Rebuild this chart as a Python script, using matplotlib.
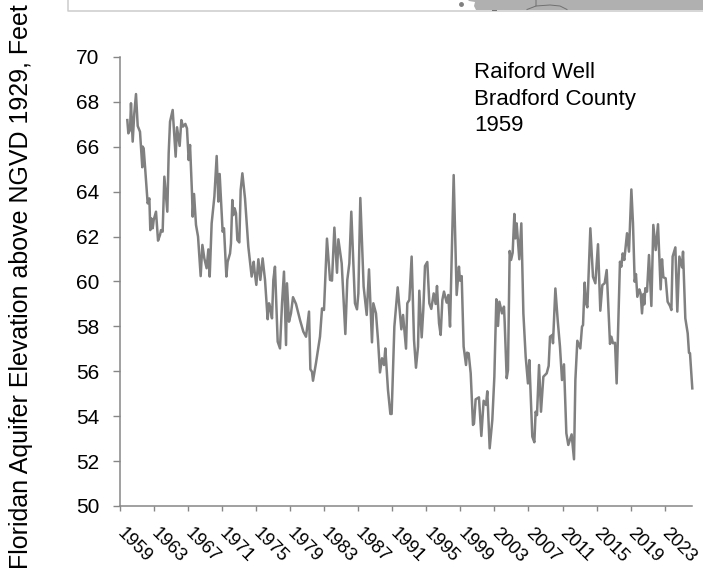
import matplotlib
matplotlib.use("Agg")
import matplotlib.pyplot as plt
from matplotlib.patches import Polygon

plt.rcParams["font.family"] = ["Liberation Sans", "DejaVu Sans"]

# well record
years = [
    1959.86, 1959.98, 1960.18, 1960.29, 1960.49, 1960.68, 1960.88, 1961.08, 1961.35, 1961.62, 1961.66, 1961.78,
    1961.94, 1962.25, 1962.45, 1962.56, 1962.68, 1962.84, 1962.96, 1963.23, 1963.47, 1963.70, 1963.82, 1964.01,
    1964.21, 1964.56, 1964.72, 1964.88, 1965.19, 1965.54, 1965.70, 1966.01, 1966.21, 1966.40, 1966.68, 1966.87,
    1967.07, 1967.23, 1967.46, 1967.54, 1967.70, 1967.93, 1968.17, 1968.48, 1968.68, 1968.91, 1969.18, 1969.38,
    1969.54, 1969.77, 1970.09, 1970.36, 1970.56, 1970.71, 1971.06, 1971.22, 1971.50, 1971.65, 1971.93, 1972.04,
    1972.20, 1972.32, 1972.47, 1972.63, 1972.79, 1973.02, 1973.18, 1973.38, 1973.69, 1974.08, 1974.47, 1974.71,
    1974.82, 1975.02, 1975.26, 1975.49, 1975.76, 1976.04, 1976.35, 1976.51, 1976.67, 1976.86, 1977.02, 1977.21,
    1977.53, 1977.80, 1978.04, 1978.27, 1978.51, 1978.62, 1978.86, 1979.09,
    1979.33, 1979.68, 1980.15, 1980.54, 1980.86, 1981.21, 1981.37, 1981.56, 1981.68, 1982.03, 1982.50, 1982.74,
    1982.97, 1983.32, 1983.68, 1983.91, 1984.19, 1984.50, 1984.66, 1985.05, 1985.48, 1985.71, 1985.95, 1986.18,
    1986.61, 1986.85, 1987.01, 1987.24, 1987.63, 1987.99, 1988.26, 1988.61, 1988.77, 1989.08, 1989.32, 1989.55,
    1989.79, 1990.02, 1990.18, 1990.49, 1990.77, 1990.92, 1991.24, 1991.63, 1992.06, 1992.26, 1992.61, 1992.76,
    1993.00, 1993.27, 1993.55, 1993.78, 1994.02, 1994.17, 1994.45, 1994.64, 1994.84, 1995.11, 1995.35, 1995.58,
    1995.86, 1996.09, 1996.25, 1996.49, 1996.68, 1996.88, 1997.07, 1997.39, 1997.58, 1997.78, 1997.97, 1998.21,
    1998.56, 1998.83, 1998.95, 1999.15, 1999.38, 1999.66, 1999.78, 1999.97, 2000.21, 2000.48, 2000.60, 2000.79,
    2001.18, 2001.46, 2001.73, 2002.01, 2002.16, 2002.44, 2002.75, 2002.99, 2003.22, 2003.42,
    2003.58, 2003.89, 2004.12, 2004.20, 2004.44, 2004.59, 2004.79, 2004.95, 2005.14, 2005.34, 2005.46, 2005.61,
    2005.92, 2006.16, 2006.40, 2006.67, 2006.94, 2007.10, 2007.45, 2007.69, 2007.84, 2008.00, 2008.24, 2008.47,
    2008.75, 2009.14, 2009.37, 2009.53, 2009.80, 2009.88, 2010.16, 2010.43, 2010.70, 2010.94, 2011.17, 2011.45,
    2011.68, 2012.07, 2012.35, 2012.51, 2012.74, 2013.09, 2013.29, 2013.41, 2013.60, 2013.76, 2013.92, 2014.27,
    2014.58, 2014.86, 2015.17, 2015.44, 2015.68, 2015.95, 2016.19, 2016.58, 2016.74, 2016.93, 2017.17, 2017.36,
    2017.75, 2017.91, 2018.07, 2018.26, 2018.58, 2018.81, 2019.09, 2019.28, 2019.48, 2019.63, 2019.79, 2020.03,
    2020.18, 2020.34, 2020.50, 2020.61, 2020.73, 2020.93, 2021.16, 2021.44, 2021.67, 2021.95, 2022.22, 2022.53,
    2022.69, 2022.85, 2023.12, 2023.35, 2023.63, 2023.79, 2023.94, 2024.26, 2024.49, 2024.73, 2025.04, 2025.16,
    2025.43, 2025.71, 2025.86, 2025.98, 2026.25,
]
elevation = [
    67.19, 66.60, 66.75, 67.94, 66.23, 67.49, 68.35, 66.93, 66.67, 65.09, 66.01, 65.93,
    65.12, 63.48, 63.70, 62.29, 62.81, 62.37, 62.74, 63.11, 61.82, 62.07, 62.29, 62.22,
    64.67, 63.11, 65.71, 67.12, 67.64, 65.56, 66.87, 66.04, 67.19, 66.90, 67.02, 66.82,
    65.41, 66.08, 63.93, 62.89, 63.90, 62.52, 62.00, 60.24, 61.63, 61.03, 60.59, 61.43,
    60.22, 62.59, 63.78, 65.59, 63.56, 64.79, 62.22, 62.37, 60.22, 60.88, 61.25, 61.70,
    63.63, 62.96, 63.26, 63.04, 61.85, 61.74, 64.08, 64.82, 63.70, 61.55, 60.22, 60.88,
    60.44, 59.85, 60.99, 60.07, 61.03, 60.07, 58.32, 59.03, 58.80, 58.36, 60.07, 60.66,
    57.32, 57.02, 59.03, 60.44, 57.17, 59.92, 58.21, 58.58,
    59.30, 59.00, 58.29, 57.77, 57.54, 58.66, 56.09, 55.98, 55.58, 56.37, 57.54, 58.80,
    58.73, 61.91, 60.07, 60.04, 62.40, 60.39, 61.88, 60.81, 57.66, 60.07, 60.81, 63.11,
    59.03, 58.76, 59.47, 63.72, 59.77, 58.51, 60.54, 57.29, 59.03, 58.58, 57.39, 55.95,
    56.58, 56.28, 57.02, 55.17, 54.10, 54.10, 57.99, 59.74, 57.87, 58.51, 57.01, 59.03,
    59.18, 61.11, 57.39, 56.16, 57.10, 59.59, 57.51, 58.73, 60.69, 60.87, 59.03, 58.78,
    59.47, 59.00, 59.80, 58.14, 57.62, 59.18, 59.55, 59.06, 59.40, 57.99, 60.96, 64.74,
    59.40, 60.66, 60.04, 60.24, 57.10, 56.28, 56.83, 56.80, 55.91, 53.61, 53.68, 54.75,
    54.84, 53.12, 54.69, 54.50, 55.11, 52.57, 53.83, 55.76, 59.21, 58.02,
    59.10, 58.58, 58.88, 58.21, 55.69, 56.06, 61.36, 60.96, 61.28, 63.01, 61.92, 62.59,
    60.99, 62.59, 58.58, 56.65, 55.46, 56.50, 53.09, 52.84, 54.20, 54.05, 56.28, 54.20,
    55.76, 55.91, 56.24, 57.54, 57.62, 57.25, 59.69, 58.29, 57.10, 55.61, 56.31, 53.24,
    52.72, 53.19, 52.08, 55.61, 57.36, 57.02, 57.99, 58.06, 59.95, 59.03, 58.85, 62.37,
    60.21, 59.92, 61.66, 58.70, 59.84, 59.92, 60.51, 57.22, 57.54, 57.25, 57.27, 55.46,
    60.88, 60.66, 61.25, 60.96, 62.15, 61.33, 64.10, 62.59, 59.99, 60.33, 59.32, 59.65,
    59.47, 58.58, 59.44, 58.98, 59.70, 59.55, 61.18, 58.91, 62.52, 61.40, 62.55, 59.65,
    60.99, 60.19, 60.14, 59.10, 58.91, 58.73, 61.11, 61.52, 58.66, 61.11, 60.63, 61.33,
    58.36, 57.69, 56.83, 56.80, 55.24,
]
year_ticks = list(range(1959, 2024, 4))
level_ticks = list(range(50, 71, 2))
note_lines = ["Raiford Well", "Bradford County", "1959"]

W, H = 703, 571
fig = plt.figure(figsize=(W / 100, H / 100), dpi=100)
ax = fig.add_axes([120 / W, 1 - 506 / H, 572 / W, 449 / H])

ax.plot(years, elevation, color="#808080", lw=1.8, solid_joinstyle="round", clip_on=False)

ax.set_xlim(1959, 1959 + 572 / 8.51)
ax.set_ylim(50, 70)
ax.set_yticks(level_ticks)
ax.set_xticks(year_ticks)
ax.set_xticklabels(year_ticks, rotation=-45, ha="left", va="center", rotation_mode="anchor")
ax.tick_params(axis="x", length=3.6, width=1, color="#868686", labelsize=13.3, pad=14)
ax.tick_params(axis="y", length=5, width=1, color="#868686", labelsize=15, pad=9.7)
for s in ["top", "right"]:
    ax.spines[s].set_visible(False)
for s in ["left", "bottom"]:
    ax.spines[s].set_color("#868686")
    ax.spines[s].set_linewidth(1.1)

for line, base in zip(note_lines, [78, 104.5, 131]):
    fig.text(474 / W, 1 - base / H, line, fontsize=16, va="baseline", ha="left")

fig.text(21 / W, 1 - 287 / H, "Floridan Aquifer Elevation above NGVD 1929, Feet",
         rotation=90, fontsize=18, va="center", ha="center")

# bottom edge of the map sitting above the chart
tf = fig.transFigure
def fx(x, y):
    return x / W, 1 - y / H

fig.add_artist(Polygon([fx(*p) for p in [(468, 0), (469, 1), (475, 2), (474, 6), (476, 10), (703, 10), (703, 0)]],
                       transform=tf, fc="#b0b0b0", ec="none"))
fig.add_artist(plt.Line2D(*zip(fx(68, 0), fx(68, 10.5), fx(703, 10.5)), lw=1.1, color="#cccccc", transform=tf))
fig.add_artist(plt.Line2D(*zip(fx(461, 4)), marker="o", ms=2.5, color="#808080", transform=tf))
for path in [[(536, 0), (536, 6), (527, 9.5)], [(536, 6), (550, 5), (560, 6), (567, 9.5)], [(492, 9.5), (496, 9.5)]]:
    fig.add_artist(plt.Line2D(*zip(*[fx(*p) for p in path]), lw=0.7, color="#707070", transform=tf))

fig.savefig("out.png", dpi=100)
